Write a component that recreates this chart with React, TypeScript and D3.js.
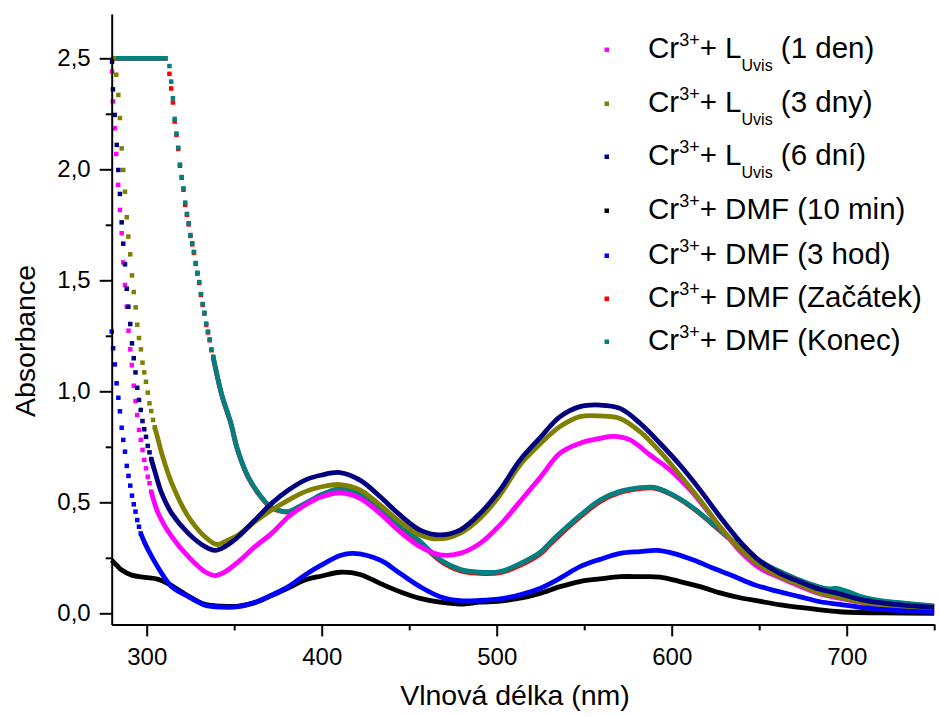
import React, { useEffect, useRef } from "react";
import * as d3 from "d3";

type Pt = [number, number];

// axis ticks
const xMajor = [300, 400, 500, 600, 700];
const xMinor = [350, 450, 550, 650, 750];
const yMajor = [0, 0.5, 1, 1.5, 2, 2.5];
const yMinor = [0.25, 0.75, 1.25, 1.75, 2.25];

// Cr3+ + L_Uvis (1 den)
const den1Dots: Pt[] = [[280.2, 2.44], [280.7, 2.306], [281.7, 2.185], [282.6, 2.069], [283.7, 1.93], [284.7, 1.817], [285.7, 1.712], [286.6, 1.581], [287.6, 1.479], [288.6, 1.381], [289.6, 1.273], [290.6, 1.189], [291.5, 1.118], [292.6, 1.025], [293.6, 0.956], [294.6, 0.893], [295.6, 0.826], [296.6, 0.781], [297.6, 0.736], [298.6, 0.691], [299.6, 0.653], [300.6, 0.615], [301.6, 0.586], [302.6, 0.548]];
const den1Curve: Pt[] = [[302.6, 0.548], [306.6, 0.45], [314.3, 0.345], [323.8, 0.255], [333.3, 0.187], [339, 0.17], [344.7, 0.187], [352.3, 0.232], [361.9, 0.3], [371.4, 0.36], [381, 0.435], [390.5, 0.488], [400, 0.525], [410.5, 0.543], [421.9, 0.518], [433.3, 0.45], [444.7, 0.368], [456.2, 0.3], [467.6, 0.263], [479, 0.27], [490.5, 0.315], [501.9, 0.398], [513.3, 0.503], [524.7, 0.61], [536.2, 0.721], [547.6, 0.766], [559, 0.788], [566.7, 0.797], [576.2, 0.781], [587.6, 0.713], [599, 0.646], [610, 0.56], [616, 0.505], [628, 0.385], [639, 0.28], [650, 0.205], [662, 0.16], [673, 0.123], [685, 0.087], [696, 0.068], [708, 0.049], [719, 0.035], [731, 0.024], [750, 0.013]];

// Cr3+ + L_Uvis (3 dny)
const dny3Flat: Pt[] = [[280, 2.5], [282.6, 2.5]];
const dny3Dots: Pt[] = [[282.6, 2.426], [283.8, 2.335], [284.7, 2.231], [285.7, 2.094], [286.6, 1.997], [287.6, 1.899], [288.6, 1.784], [289.5, 1.697], [290.6, 1.617], [291.6, 1.522], [292.6, 1.447], [293.7, 1.378], [294.6, 1.3], [295.6, 1.24], [296.7, 1.189], [297.6, 1.129], [298.6, 1.085], [299.6, 1.043], [300.6, 0.994], [301.6, 0.946], [302.6, 0.911], [303.6, 0.871], [304.6, 0.838]];
const dny3Curve: Pt[] = [[304.6, 0.838], [306.6, 0.78], [308.6, 0.72], [314.3, 0.586], [323.8, 0.435], [333.3, 0.345], [340, 0.31], [346.6, 0.33], [352.3, 0.353], [361.9, 0.413], [371.4, 0.465], [381, 0.51], [390.5, 0.548], [400, 0.57], [410.5, 0.58], [421.9, 0.556], [433.3, 0.488], [444.7, 0.413], [456.2, 0.353], [467.6, 0.335], [479, 0.36], [490.5, 0.428], [501.9, 0.533], [513.3, 0.668], [524.7, 0.762], [536.2, 0.841], [547.6, 0.886], [559, 0.889], [570.5, 0.878], [581.9, 0.818], [593.3, 0.728], [604.7, 0.623], [616.2, 0.51], [627.6, 0.39], [639, 0.29], [650.5, 0.215], [661.9, 0.165], [673.3, 0.128], [684.8, 0.092], [696.2, 0.072], [707.6, 0.052], [719, 0.038], [730.5, 0.027], [750, 0.015]];

// Cr3+ + L_Uvis (6 dní)
const dni6Dots: Pt[] = [[280.2, 2.485], [280.7, 2.36], [281.7, 2.245], [282.9, 2.11], [283.8, 1.997], [284.7, 1.889], [285.7, 1.761], [286.6, 1.665], [287.6, 1.572], [288.6, 1.462], [289.5, 1.381], [290.6, 1.303], [291.6, 1.216], [292.6, 1.149], [293.6, 1.085], [294.6, 1.016], [295.6, 0.961], [296.6, 0.916], [297.6, 0.866], [298.6, 0.829], [299.6, 0.795], [300.6, 0.754], [301.6, 0.725], [302.6, 0.695]];
const dni6Curve: Pt[] = [[302.6, 0.695], [304.7, 0.638], [308.6, 0.54], [314.3, 0.45], [323.8, 0.36], [333.3, 0.3], [339, 0.283], [344.7, 0.3], [352.3, 0.345], [361.9, 0.42], [371.4, 0.495], [381, 0.555], [390.5, 0.6], [400, 0.623], [410.5, 0.634], [421.9, 0.6], [433.3, 0.526], [444.7, 0.443], [456.2, 0.375], [467.6, 0.353], [479, 0.375], [490.5, 0.45], [501.9, 0.556], [513.3, 0.69], [524.7, 0.79], [536.2, 0.886], [547.6, 0.931], [559, 0.938], [570.5, 0.923], [581.9, 0.856], [593.3, 0.766], [604.7, 0.668], [616.2, 0.556], [627.6, 0.435], [639, 0.323], [650.5, 0.235], [661.9, 0.18], [673.3, 0.142], [684.8, 0.108], [696.2, 0.087], [707.6, 0.063], [719, 0.048], [730.5, 0.038], [750, 0.027]];

// Cr3+ + DMF (10 min)
const min10Curve: Pt[] = [[280, 0.24], [283, 0.215], [285.7, 0.195], [291.4, 0.172], [299, 0.162], [306.6, 0.153], [314.3, 0.125], [323.8, 0.078], [333.3, 0.04], [342.9, 0.032], [352.4, 0.032], [361.9, 0.048], [371.4, 0.08], [381, 0.115], [390.5, 0.15], [400, 0.168], [410.5, 0.185], [421.9, 0.175], [433.3, 0.135], [444.7, 0.097], [456.2, 0.067], [467.6, 0.05], [479, 0.042], [490.5, 0.05], [501.9, 0.055], [513.3, 0.068], [524.7, 0.09], [536.2, 0.12], [547.6, 0.143], [559, 0.155], [570.5, 0.165], [581.9, 0.165], [593.3, 0.163], [604.7, 0.143], [616.2, 0.12], [627.6, 0.092], [639, 0.07], [650, 0.055], [662, 0.038], [673, 0.027], [685, 0.015], [696, 0.007], [720, 0.002], [750, 0.0]];

// Cr3+ + DMF (3 hod)
const hod3Dots: Pt[] = [[280, 1.269], [280.8, 1.194], [281.8, 1.121], [282.8, 1.036], [283.8, 0.971], [284.7, 0.91], [285.7, 0.836], [286.6, 0.781], [287.6, 0.728], [288.6, 0.664], [289.6, 0.619], [290.6, 0.575], [291.6, 0.53], [292.6, 0.491], [293.6, 0.458], [294.6, 0.42], [295.6, 0.39], [296.6, 0.36]];
const hod3Curve: Pt[] = [[296.6, 0.36], [299, 0.315], [302.9, 0.255], [308.6, 0.18], [314.3, 0.12], [323.8, 0.075], [333.3, 0.037], [342.9, 0.028], [352.4, 0.03], [361.9, 0.05], [371.4, 0.082], [381, 0.12], [390.5, 0.173], [400, 0.218], [410.5, 0.26], [418, 0.27], [433.3, 0.24], [444.7, 0.18], [456.2, 0.12], [467.6, 0.075], [479, 0.057], [490.5, 0.058], [501.9, 0.065], [513.3, 0.083], [524.7, 0.112], [536.2, 0.158], [547.6, 0.21], [559, 0.243], [570.5, 0.27], [581.9, 0.278], [591.4, 0.283], [600.9, 0.27], [612.4, 0.24], [623.8, 0.203], [635.2, 0.168], [646.7, 0.13], [656.2, 0.108], [673, 0.075], [684.8, 0.052], [696, 0.04], [707.6, 0.027], [730.5, 0.012], [750, 0.005]];

// Cr3+ + DMF (Začátek)
const zacFlat: Pt[] = [[280, 2.5], [312, 2.5]];
const zacDots: Pt[] = [[313, 2.43], [314, 2.364], [315, 2.301], [316, 2.215], [317, 2.155], [318, 2.092], [319, 2.016], [320, 1.962], [321, 1.908], [322, 1.84], [323, 1.795], [324, 1.752], [325, 1.7], [326, 1.662], [327, 1.624], [328, 1.574], [329, 1.53], [330, 1.488], [331, 1.434], [332, 1.39], [333, 1.35], [334, 1.3], [335, 1.265], [336, 1.23], [337, 1.185], [338, 1.152]];
const zacCurve: Pt[] = [[338, 1.152], [339, 1.114], [343, 0.979], [348, 0.857], [352, 0.733], [358, 0.612], [364, 0.537], [370, 0.483], [375, 0.463], [381, 0.456], [387, 0.478], [394, 0.508], [400, 0.533], [410, 0.56], [416, 0.556], [422, 0.533], [433, 0.465], [445, 0.392], [456, 0.32], [462, 0.275], [468, 0.235], [479, 0.192], [490, 0.18], [502, 0.183], [513, 0.215], [525, 0.268], [530, 0.307], [536, 0.352], [548, 0.436], [559, 0.503], [570, 0.543], [582, 0.562], [590, 0.564], [599, 0.538], [610, 0.486], [622, 0.41], [633, 0.336], [645, 0.263], [656, 0.208], [662, 0.186], [673, 0.148], [685, 0.115], [690, 0.108], [694, 0.108], [701, 0.095], [708, 0.073], [719, 0.055], [730, 0.046], [750, 0.031]];

// Cr3+ + DMF (Konec)
const konFlat: Pt[] = [[280, 2.5], [312, 2.5]];
const konDots: Pt[] = [[313, 2.465], [314, 2.395], [315, 2.32], [316, 2.227], [317, 2.161], [318, 2.097], [319, 2.021], [320, 1.965], [321, 1.914], [322, 1.85], [323, 1.799], [324, 1.757], [325, 1.704], [326, 1.667], [327, 1.628], [328, 1.578], [329, 1.534], [330, 1.492], [331, 1.438], [332, 1.393], [333, 1.354], [334, 1.305], [335, 1.269], [336, 1.234], [337, 1.189], [338, 1.156]];
const konCurve: Pt[] = [[338, 1.156], [339, 1.118], [343, 0.983], [348, 0.86], [352, 0.736], [358, 0.615], [364, 0.54], [370, 0.485], [375, 0.465], [381, 0.458], [387, 0.48], [394, 0.51], [400, 0.535], [410, 0.562], [416, 0.558], [422, 0.535], [433, 0.468], [445, 0.395], [456, 0.325], [462, 0.28], [468, 0.24], [479, 0.198], [490, 0.185], [502, 0.188], [513, 0.222], [525, 0.275], [530, 0.315], [536, 0.36], [548, 0.443], [559, 0.51], [570, 0.548], [582, 0.566], [590, 0.567], [599, 0.54], [610, 0.488], [622, 0.413], [633, 0.338], [645, 0.265], [656, 0.21], [662, 0.188], [673, 0.15], [685, 0.117], [690, 0.11], [694, 0.112], [701, 0.097], [708, 0.075], [719, 0.057], [730, 0.048], [750, 0.033]];

// legend order
const legendColors = ["#ff00ff", "#808000", "#000080", "#000000", "#0000ff", "#ff0000", "#008080"];
const legendPrefix = ["+ L", "+ L", "+ L", "+ DMF", "+ DMF", "+ DMF", "+ DMF"];
const legendSuffix = [" (1 den)", " (3 dny)", " (6 dní)", " (10 min)", " (3 hod)", " (Začátek)", " (Konec)"];
const legendBaselines = [58, 112, 165, 219, 264, 307, 350];

const FONT = "'Liberation Sans', Arial, sans-serif";

const App = () => {
  const ref = useRef<SVGSVGElement>(null);

  useEffect(() => {
    const svg = d3.select(ref.current);
    svg.selectAll("*").remove();

    const x = d3.scaleLinear().domain([280, 750]).range([111.7, 934.2]);
    const y = d3.scaleLinear().domain([-0.05, 2.7]).range([624.4, 13.9]);

    // draw order: back to front
    const series = [
      { color: "#000000", lines: [min10Curve], dots: [] as Pt[] },
      { color: "#ff0000", lines: [zacFlat, zacCurve], dots: zacDots },
      { color: "#008080", lines: [konFlat, konCurve], dots: konDots },
      { color: "#ff00ff", lines: [den1Curve], dots: den1Dots },
      { color: "#808000", lines: [dny3Flat, dny3Curve], dots: dny3Dots },
      { color: "#000080", lines: [dni6Curve], dots: dni6Dots },
      { color: "#0000ff", lines: [hod3Curve], dots: hod3Dots },
    ];

    const line = d3.line<Pt>()
      .x(d => x(d[0]))
      .y(d => y(d[1]))
      .curve(d3.curveCatmullRom.alpha(0.5));

    const plot = svg.append("g");
    const sq = 4.5;
    series.forEach(s => {
      s.lines.forEach(seg => {
        plot.append("path")
          .datum(seg)
          .attr("fill", "none")
          .attr("stroke", s.color)
          .attr("stroke-width", 4.8)
          .attr("stroke-linejoin", "round")
          .attr("d", line);
      });
      plot.selectAll(null)
        .data(s.dots)
        .enter()
        .append("rect")
        .attr("x", d => x(d[0]) - sq / 2)
        .attr("y", d => y(d[1]) - sq / 2)
        .attr("width", sq)
        .attr("height", sq)
        .attr("fill", s.color);
    });

    // axes
    const fmt = (d: d3.NumberValue) => d3.format(".1f")(+d).replace(".", ",");

    const yAxis = svg.append("g")
      .attr("transform", `translate(${x(280)},0)`)
      .call(d3.axisLeft(y).tickValues(yMajor).tickSize(12).tickSizeOuter(0).tickPadding(9).tickFormat(fmt));
    svg.append("g")
      .attr("transform", `translate(${x(280)},0)`)
      .call(d3.axisLeft(y).tickValues(yMinor).tickSize(6).tickSizeOuter(0).tickFormat(() => ""))
      .call(g => g.select(".domain").remove());

    const xAxis = svg.append("g")
      .attr("transform", `translate(0,${y(-0.05)})`)
      .call(d3.axisBottom(x).tickValues(xMajor).tickSize(12).tickSizeOuter(0).tickPadding(12));
    svg.append("g")
      .attr("transform", `translate(0,${y(-0.05)})`)
      .call(d3.axisBottom(x).tickValues(xMinor).tickSize(6).tickSizeOuter(0).tickFormat(() => ""))
      .call(g => g.select(".domain").remove());

    svg.selectAll(".domain, .tick line").attr("stroke", "#000").attr("stroke-width", 2);
    [yAxis, xAxis].forEach(a => a.selectAll("text")
      .attr("font-family", FONT)
      .attr("font-size", 24)
      .attr("fill", "#000"));

    // axis titles
    svg.append("text")
      .attr("x", 515)
      .attr("y", 705)
      .attr("text-anchor", "middle")
      .attr("font-family", FONT)
      .attr("font-size", 28.5)
      .text("Vlnová délka (nm)");

    svg.append("text")
      .attr("transform", "translate(35,341) rotate(-90)")
      .attr("text-anchor", "middle")
      .attr("font-family", FONT)
      .attr("font-size", 28.5)
      .text("Absorbance");

    // legend
    const legend = svg.append("g");
    legendColors.forEach((c, i) => {
      const base = legendBaselines[i];
      legend.append("rect")
        .attr("x", 604.5)
        .attr("y", base - 10.5)
        .attr("width", 4.5)
        .attr("height", 4.5)
        .attr("fill", c);
      const t = legend.append("text")
        .attr("x", 648)
        .attr("y", base)
        .attr("font-family", FONT)
        .attr("font-size", 29.5);
      t.append("tspan").text("Cr");
      t.append("tspan").attr("font-size", 18).attr("dy", -12.5).text("3+");
      t.append("tspan").attr("dy", 12.5).text(legendPrefix[i]);
      if (i < 3) {
        t.append("tspan").attr("font-size", 16).attr("dy", 13).text("Uvis");
        t.append("tspan").attr("dy", -13).text(legendSuffix[i]);
      } else {
        t.append("tspan").text(legendSuffix[i]);
      }
    });
  }, []);

  return (
    <svg
      ref={ref}
      width={940}
      height={717}
      style={{ position: "absolute", left: 0, top: 0, background: "#fff" }}
    />
  );
};

export default App;
